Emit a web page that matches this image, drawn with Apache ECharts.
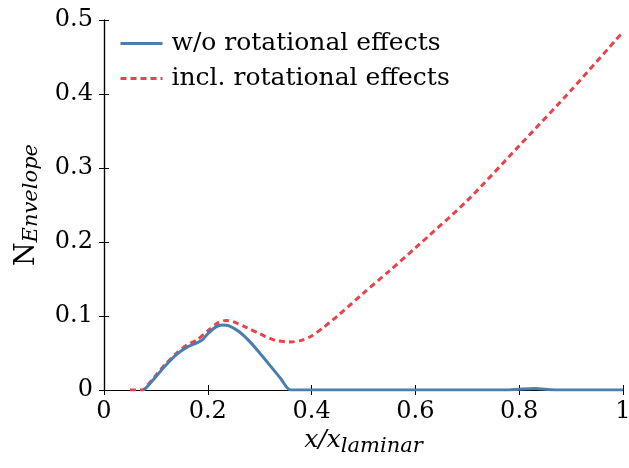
<!DOCTYPE html>
<html><head><meta charset="utf-8">
<script src="https://cdn.jsdelivr.net/npm/echarts@6/dist/echarts.min.js"></script>
<style>html,body{margin:0;padding:0;background:#fff}#c{width:629px;height:468px}</style>
</head><body><div id="c"></div>
<script>
const xTicks = [0, 0.2, 0.4, 0.6, 0.8, 1];
const yTicks = [0, 0.1, 0.2, 0.3, 0.4, 0.5];
const seriesNames = ['w/o rotational effects', 'incl. rotational effects'];
const blueX = [0.075,0.08,0.1,0.12,0.14,0.16,0.18,0.19,0.2,0.215,0.228,0.24,0.26,0.28,0.3,0.32,0.34,0.36,0.78,0.8,0.83,0.86,0.88,1];
const blueY = [0,0.002,0.018,0.034,0.048,0.058,0.064,0.068,0.076,0.085,0.088,0.087,0.079,0.066,0.05,0.033,0.016,0,0,0.001,0.002,0.0005,0,0];
const redX = [0.05,0.075,0.08,0.1,0.12,0.14,0.16,0.18,0.2,0.22,0.235,0.25,0.27,0.3,0.33,0.36,0.38,0.4,0.42,0.45,0.5,0.55,0.6,0.7,0.8,0.9,1];
const redY = [0,0,0.003,0.02,0.036,0.05,0.061,0.068,0.08,0.091,0.094,0.092,0.086,0.076,0.067,0.065,0.067,0.073,0.083,0.1,0.131,0.161,0.192,0.256,0.33,0.405,0.484];

const FONT = 'DejaVu Serif';
const zip = (a, b) => a.map((v, i) => [v, b[i]]);
const fmt = v => String(+v.toFixed(1));
const chart = echarts.init(document.getElementById('c'));
const axisLine = {show: true, lineStyle: {color: '#000', width: 1.2}};
const tick = {show: true, inside: true, length: 5, lineStyle: {color: '#000', width: 1}};
chart.setOption({
  animation: false,
  grid: {left: 104, right: 6, top: 20, bottom: 78, containLabel: false, outerBoundsMode: 'none'},
  legend: {
    left: 114, top: 24, orient: 'vertical', itemGap: 6, itemWidth: 42, itemHeight: 14,
    itemStyle: {opacity: 0}, lineStyle: {width: 3},
    textStyle: {fontFamily: FONT, fontSize: 25, lineHeight: 29, color: '#000', padding: [0, 0, 0, 4]},
    data: seriesNames
  },
  xAxis: [{
    type: 'value', min: 0, max: 1, interval: 0.2,
    axisLine, axisTick: tick, splitLine: {show: false},
    axisLabel: {fontFamily: FONT, fontSize: 24, color: '#000', margin: 10, formatter: fmt},
    name: '{i|x/x}{s|laminar}', nameLocation: 'middle', nameGap: 34, nameMoveOverlap: false,
    nameTextStyle: {rich: {i: {fontFamily: FONT, fontStyle: 'italic', fontSize: 25, color: '#000'}, s: {fontFamily: FONT, fontStyle: 'italic', fontSize: 21, color: '#000', padding: [12,0,0,0]}}}
  }, {
    type: 'value', min: 0, max: 1, interval: 0.2, position: 'top',
    axisLine, axisTick: tick, axisLabel: {show: false}, splitLine: {show: false}
  }],
  yAxis: [{
    type: 'value', min: 0, max: 0.5, interval: 0.1,
    axisLine, axisTick: tick, splitLine: {show: false},
    axisLabel: {fontFamily: FONT, fontSize: 24, color: '#000', margin: 11, formatter: fmt},
    name: '{n|N}{s|Envelope}', nameLocation: 'middle', nameGap: 62, nameRotate: 90, nameMoveOverlap: false,
    nameTextStyle: {rich: {n: {fontFamily: FONT, fontSize: 27, color: '#000'}, s: {fontFamily: FONT, fontStyle: 'italic', fontSize: 21, color: '#000', padding: [10,0,0,0]}}}
  }, {
    type: 'value', min: 0, max: 0.5, interval: 0.1, position: 'right',
    axisLine, axisTick: tick, axisLabel: {show: false}, splitLine: {show: false}
  }],
  series: [{
    name: seriesNames[0], type: 'line', data: zip(blueX, blueY), symbol: 'none', smooth: 0.25,
    lineStyle: {color: '#4a7db0', width: 3}, itemStyle: {color: '#4a7db0'}, z: 3
  }, {
    name: seriesNames[1], type: 'line', data: zip(redX, redY), symbol: 'none', smooth: 0.25,
    lineStyle: {color: '#e8434a', width: 3, type: [6, 4]}, itemStyle: {color: '#e8434a'}, z: 2
  }]
});
</script></body></html>
